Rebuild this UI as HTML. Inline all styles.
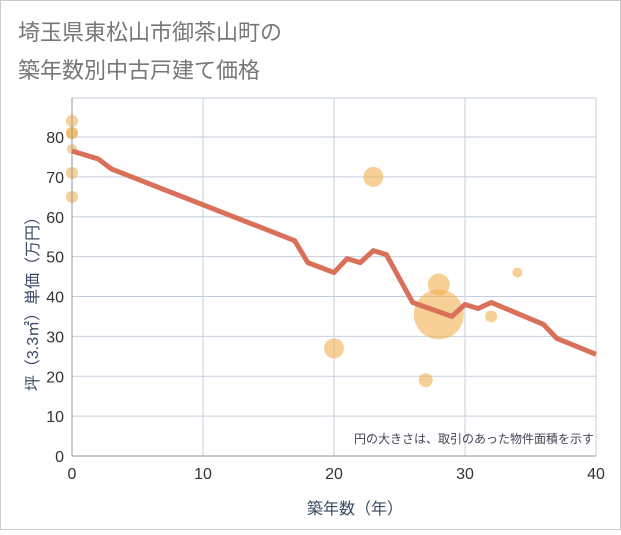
<!DOCTYPE html>
<html><head><meta charset="utf-8"><style>
body{margin:0;background:#fff;}
#wrap{width:621px;height:530px;position:relative;font-family:"Liberation Sans","Noto Sans CJK JP",sans-serif;}
</style></head><body>
<div id="wrap">
<svg id="c" width="621" height="530" xmlns="http://www.w3.org/2000/svg">
<rect x="0.5" y="0.5" width="620" height="529" fill="#fff" stroke="#ccc"/>
<text x="18" y="40" font-size="22" fill="#777">埼玉県東松山市御茶山町の</text>
<text x="18" y="78" font-size="22" fill="#777">築年数別中古戸建て価格</text>
<g id="grid"></g><g id="bubbles"></g><g id="line"></g><g id="axes"></g>
<text x="594" y="443" font-size="12" fill="#445" text-anchor="end">円の大きさは、取引のあった物件面積を示す</text>
<text x="355" y="514" font-size="16" fill="#3a4a66" text-anchor="middle">築年数（年）</text>
<text transform="translate(38,300) rotate(-90)" font-size="16" fill="#3a4a66" text-anchor="middle">坪（3.3㎡）単価（万円）</text>
</svg></div>
<script>
const lineYears=[0,2,3,17,18,20,21,22,23,24,26,29,30,31,32,36,37,40];
const linePrices=[76.5,74.5,72,54,48.5,46,49.5,48.5,51.5,50.5,38.5,35,38,37,38.5,33,29.5,25.5];
const bubbleYears=[0,0,0,0,0,0,23,20,28,28,27,32,34];
const bubblePrices=[84,81,81,77,71,65,70,27,43,35.5,19,35,46];
const bubbleSizes=[6,6,6,5,6,6,10,10,11,25,7,6,5];
const xTicks=[0,10,20,30,40];
const yTicks=[0,10,20,30,40,50,60,70,80];
const X0=72,X1=596,Y0=456,Y1=137;
const sx=v=>X0+(X1-X0)*v/40;
const sy=v=>Y0-(Y0-Y1)*v/80;
const NS="http://www.w3.org/2000/svg";
function mk(t,p,a){const e=document.createElementNS(NS,t);for(const k in a)e.setAttribute(k,a[k]);p.appendChild(e);return e;}
const g=document.getElementById('grid'),ax=document.getElementById('axes');
mk('rect',g,{x:X0,y:98,width:X1-X0,height:Y0-98,fill:'none',stroke:'#c4cfdd'});
yTicks.forEach(v=>{const l=mk('line',g,{x1:X0,x2:X1,y1:sy(v),y2:sy(v),stroke:'#c4cfdd'});


const t=mk('text',ax,{x:X0-8,y:sy(v)+6,'font-size':16,fill:'#333','text-anchor':'end'});t.textContent=v;

});
xTicks.forEach(v=>{const l=mk('line',g,{x1:sx(v),x2:sx(v),y1:98,y2:Y0,stroke:'#c4cfdd'});


const t=mk('text',ax,{x:sx(v),y:479,'font-size':16,fill:'#333','text-anchor':'middle'});t.textContent=v;

});
mk('line',ax,{x1:X0,x2:X0,y1:98,y2:Y0,stroke:'#999'});
mk('line',ax,{x1:X0,x2:X1,y1:Y0,y2:Y0,stroke:'#999'});
const b=document.getElementById('bubbles');
bubbleYears.forEach((v,i)=>{const c=mk('circle',b,{cx:sx(v),cy:sy(bubblePrices[i]),r:bubbleSizes[i],fill:'#f0b050','fill-opacity':0.6});

});
const pts=lineYears.map((v,i)=>sx(v)+','+sy(linePrices[i])).join(' ');
const pl=mk('polyline',document.getElementById('line'),{points:pts,fill:'none',stroke:'#d9705a','stroke-width':5,'stroke-linejoin':'round'});


</script>
</body></html>
